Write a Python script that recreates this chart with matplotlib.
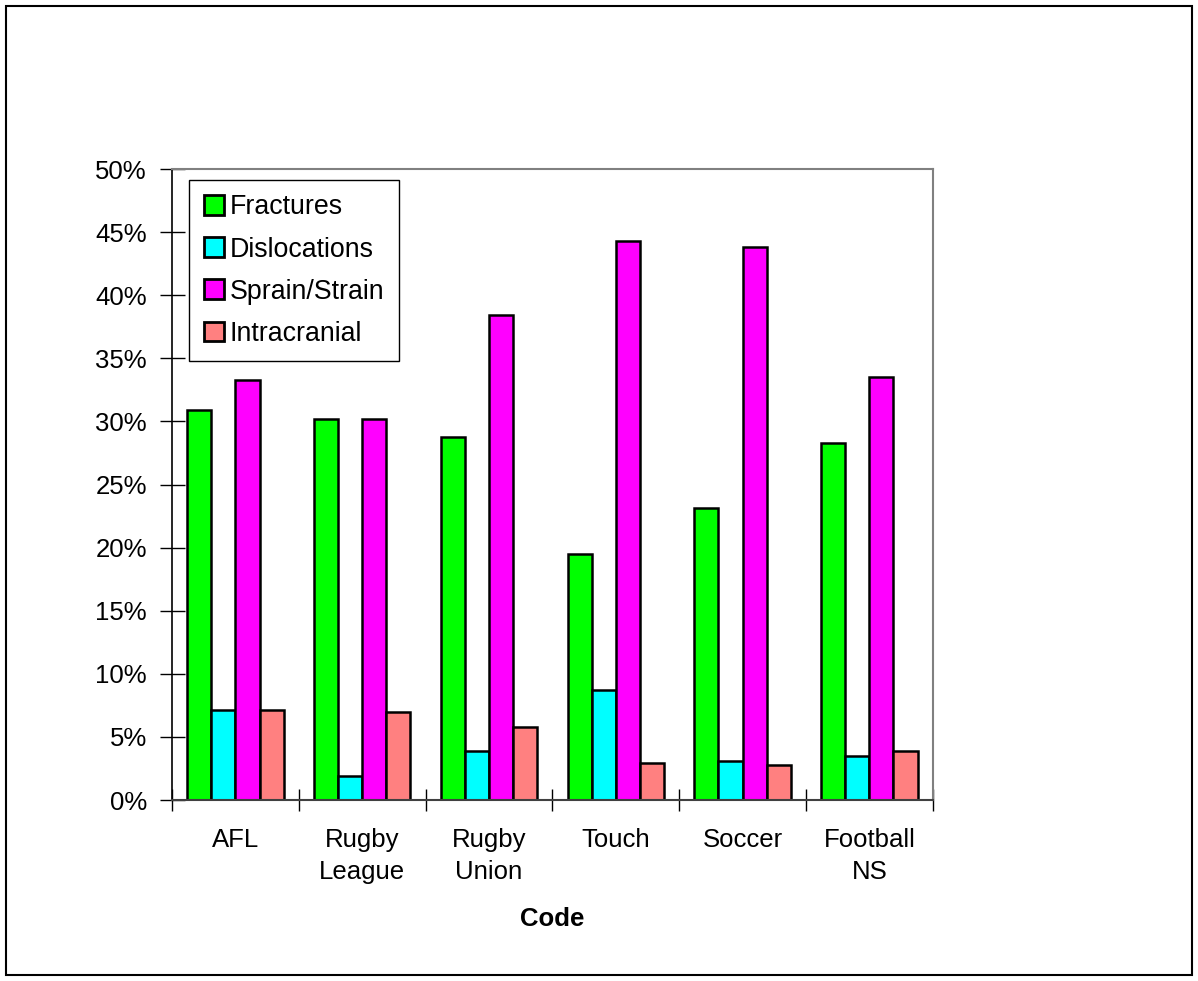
import matplotlib
matplotlib.use('Agg')
import matplotlib.pyplot as plt
import numpy as np
from matplotlib.patches import Rectangle
from matplotlib.ticker import FuncFormatter

plt.rcParams['font.family'] = ['Liberation Sans', 'DejaVu Sans']

# injury share per football code
codes = ['AFL', 'Rugby\nLeague', 'Rugby\nUnion', 'Touch', 'Soccer', 'Football\nNS']
fractures = [30.9, 30.2, 28.8, 19.5, 23.1, 28.3]
dislocations = [7.1, 1.9, 3.9, 8.7, 3.1, 3.5]
sprain_strain = [33.3, 30.2, 38.4, 44.3, 43.8, 33.5]
intracranial = [7.1, 7.0, 5.8, 2.9, 2.8, 3.9]

series = [('Fractures', fractures, '#00ff00'),
          ('Dislocations', dislocations, '#00ffff'),
          ('Sprain/Strain', sprain_strain, '#ff00ff'),
          ('Intracranial', intracranial, '#ff8080')]

fs = 18.5

fig = plt.figure(figsize=(11.98, 9.81), dpi=100)
ax = fig.add_axes([0.1436, 0.1845, 0.635, 0.6432])

x = np.arange(len(codes))
w = 0.19
for i, (name, vals, col) in enumerate(series):
    ax.bar(x + (i - 1.5) * w, vals, w, color=col, edgecolor='black', linewidth=1.8, label=name)

ax.set_xlim(-0.5, len(codes) - 0.5)
ax.set_ylim(0, 50)
ax.set_yticks(np.arange(0, 51, 5))
ax.yaxis.set_major_formatter(FuncFormatter(lambda v, p: '%d%%' % v))

# labels at centres, tick marks at category boundaries
ax.set_xticks(x)
ax.set_xticklabels(codes, fontsize=fs, linespacing=1.45)
ax.set_xticks(np.arange(-0.5, len(codes)), minor=True)
ax.tick_params(axis='x', which='major', length=0, pad=20)
ax.tick_params(axis='x', which='minor', direction='inout', length=16, width=1)
ax.tick_params(axis='y', direction='inout', length=18, width=1, labelsize=fs, pad=9)

for s in ['top', 'right']:
    ax.spines[s].set_color('#808080')
    ax.spines[s].set_linewidth(1.5)
ax.spines['left'].set_linewidth(1.2)
ax.spines['bottom'].set_color('#404040')
ax.spines['bottom'].set_linewidth(1.5)

ax.set_xlabel('Code', fontsize=fs, fontweight='bold', labelpad=16)

leg = ax.legend(loc='upper left', bbox_to_anchor=(0.022, 0.983), fontsize=19.3,
                handlelength=0.75, handleheight=0.75, handletextpad=0.22,
                labelspacing=0.6, borderpad=0.55, borderaxespad=0,
                fancybox=False, framealpha=1)
leg.get_frame().set_edgecolor('black')
leg.get_frame().set_linewidth(1.0)
for h in leg.legend_handles:
    h.set_linewidth(2.0)

# outer border of the chart area
fig.patches.append(Rectangle((0.005, 0.006), 0.99, 0.988, transform=fig.transFigure,
                             fill=False, edgecolor='black', linewidth=1.5))

fig.savefig('out.png', dpi=100)
